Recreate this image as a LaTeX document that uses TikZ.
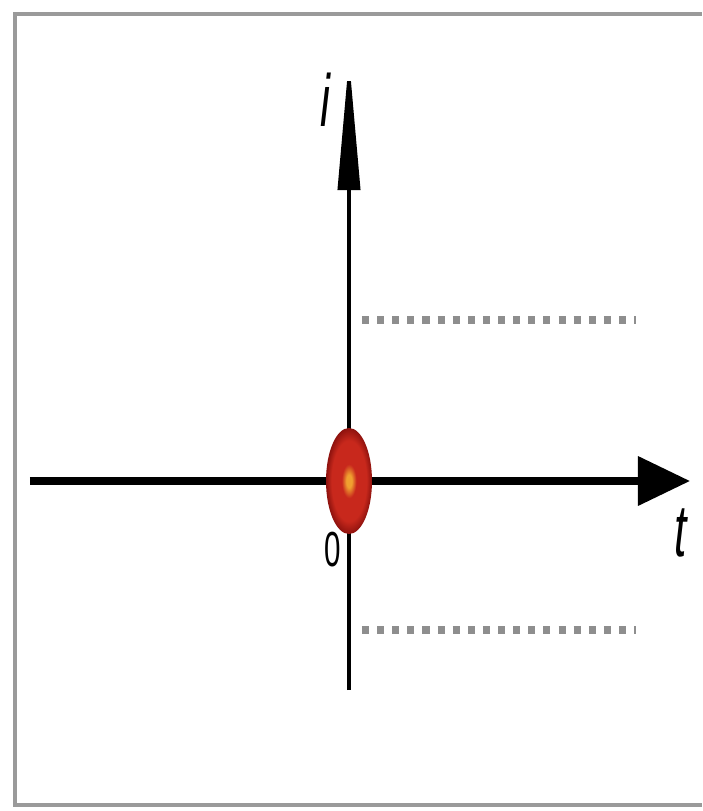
\documentclass[tikz,border=0pt]{standalone}
\usepackage{fontspec}
\setmainfont{Liberation Sans}
\usetikzlibrary{arrows.meta}
\definecolor{framegray}{HTML}{9A9A9A}
\definecolor{dotgray}{HTML}{8E8E8E}
\definecolor{spotred}{HTML}{C8281C}
\definecolor{spotdark}{HTML}{8E120E}
\definecolor{spotcore}{HTML}{F0A030}
\pgfdeclareradialshading{charge}{\pgfpoint{0bp}{0bp}}{%
  color(0bp)=(spotcore); color(3bp)=(spotcore); color(8bp)=(spotred);
  color(19bp)=(spotred); color(25bp)=(spotdark); color(50bp)=(spotdark)}

\begin{document}
\begin{tikzpicture}[x=0.01cm,y=-0.01cm,
  axis/.style={black, line width=#1},
  levelline/.style={dotgray, line width=2.4pt, dash pattern=on 2pt off 2.3pt},
  axislabel/.style={font=\fontsize{21}{21}\selectfont\itshape, xscale=0.6, inner sep=0pt}]
 \useasboundingbox (0,0) rectangle (702,811);
 % frame, open on the right
 \draw[framegray, line width=1.2pt] (702,14) -- (15,14) -- (15,805) -- (702,805);
 % level lines
 \coordinate (upA) at (362,320); \coordinate (upB) at (636,320);
 \coordinate (loA) at (362,630); \coordinate (loB) at (636,630);
 \draw[levelline] (upA) -- (upB);
 \draw[levelline] (loA) -- (loB);
 % axes
 \coordinate (tbeg) at (30,481); \coordinate (tend) at (690,481);
 \coordinate (ibeg) at (349,690); \coordinate (iend) at (349,58);
 \draw[axis=1.1pt, -{Triangle[length=1.32cm, width=0.22cm]}] (ibeg) -- (iend);
 \draw[axis=2pt, -{Triangle[length=0.52cm, width=0.48cm]}] (tbeg) -- (tend);
 % charge at the origin
 \node[axislabel] (ilab) at (325,100) {i};
 \node[axislabel] (tlab) at (681,533) {t};
 \node[font=\fontsize{14}{14}\selectfont, xscale=0.6, inner sep=0pt] (zero) at (333,550) {0};
 \shade[shading=charge] (349,481) ellipse [x radius=23, y radius=53];
\end{tikzpicture}
\end{document}
